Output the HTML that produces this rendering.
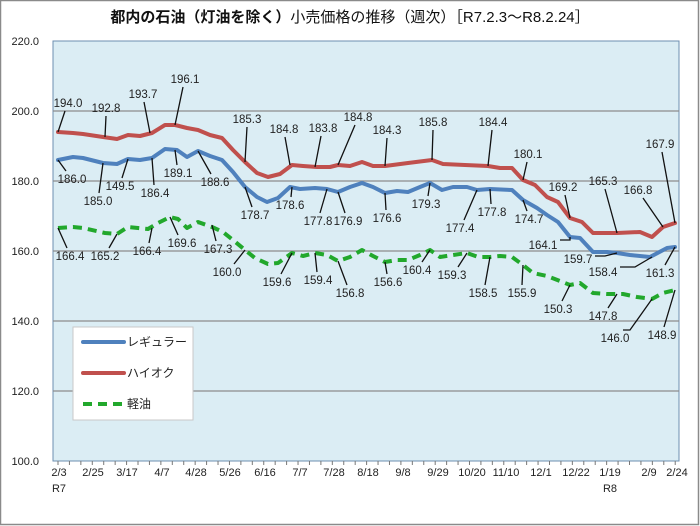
<!DOCTYPE html>
<html><head><meta charset="utf-8"><style>
html,body{margin:0;padding:0;background:#fff}
svg{display:block}
text{font-family:"Liberation Sans","Noto Sans CJK JP",sans-serif}
</style></head><body>
<svg width="700" height="526" viewBox="0 0 700 526" xmlns="http://www.w3.org/2000/svg">
<defs><pattern id="tk" x="57.5" y="0" width="11.43" height="10" patternUnits="userSpaceOnUse"><rect x="0" y="0" width="1" height="10" fill="#777"/></pattern></defs>
<rect x="0.5" y="0.5" width="698" height="524" fill="#fff" stroke="#8a8a8a" stroke-width="1.5"/>
<text x="350" y="22" text-anchor="middle" font-size="15" fill="#111"><tspan font-weight="bold">都内の石油（灯油を除く）</tspan>小売価格の推移（週次）［R7.2.3～R8.2.24］</text>
<rect x="53" y="41" width="626" height="420" fill="#dbedf4" stroke="#6d8fb0" stroke-width="1"/>
<g stroke="#8c8c8c" stroke-width="1.2">
<line x1="53" y1="111" x2="679" y2="111"/><line x1="53" y1="181" x2="679" y2="181"/>
<line x1="53" y1="251" x2="679" y2="251"/><line x1="53" y1="321" x2="679" y2="321"/>
<line x1="53" y1="391" x2="679" y2="391"/>
</g>
<rect x="57" y="461" width="620" height="4" fill="url(#tk)"/>
<g font-size="11" fill="#222" text-anchor="end">
<text x="39" y="45">220.0</text><text x="39" y="115">200.0</text><text x="39" y="185">180.0</text>
<text x="39" y="255">160.0</text><text x="39" y="325">140.0</text><text x="39" y="395">120.0</text><text x="39" y="465">100.0</text>
</g>
<g font-size="11" fill="#222" text-anchor="middle">
<text x="59" y="476">2/3</text><text x="59" y="492">R7</text>
<text x="93" y="476">2/25</text><text x="127" y="476">3/17</text><text x="162" y="476">4/7</text>
<text x="196" y="476">4/28</text><text x="230" y="476">5/26</text><text x="265" y="476">6/16</text>
<text x="300" y="476">7/7</text><text x="334" y="476">7/28</text><text x="368" y="476">8/18</text>
<text x="403" y="476">9/8</text><text x="438" y="476">9/29</text><text x="472" y="476">10/20</text>
<text x="506" y="476">11/10</text><text x="541" y="476">12/1</text><text x="576" y="476">12/22</text>
<text x="610" y="476">1/19</text><text x="610" y="492">R8</text>
<text x="649" y="476">2/9</text><text x="677" y="476">2/24</text>
</g>
<g fill="none" stroke-linejoin="round" stroke-linecap="round">
<polyline stroke="#c0504d" stroke-width="4" points="58,132 73,133 83,134 103,137 117,139 128,135 140,136 152,133 165,125 175,125 187,128 198,130 210,135 222,138 233,150 245,162 257,173 268,177 280,174 292,165 303,166 317,167 330,167 338,165 350,166 362,162 373,166 385,166 408,163 432,160 443,164 465,165 488,166 500,168 512,168 523,180 535,185 547,197 558,202 570,218 582,222 593,233 617,233 640,232 652,237 663,227 675,223"/>
<polyline stroke="#4f81bd" stroke-width="4" points="58,160 73,157 83,158 103,163 117,164 128,159 140,160 152,158 165,149 177,150 187,157 198,151 210,156 222,160 233,172 245,187 257,197 267,202 278,198 290,187 300,189 315,188 327,189 338,192 350,187 362,183 373,187 385,193 397,191 408,192 420,187 430,183 442,190 453,187 467,187 477,190 490,189 512,190 523,200 537,208 547,215 558,222 570,237 580,238 593,252 607,252 617,253 630,255 650,257 667,248 675,247"/>
<polyline stroke="#22a82c" stroke-width="4" stroke-dasharray="9,6" stroke-linecap="butt" points="58,228 73,227 83,228 105,233 117,234 128,227 148,229 158,223 170,217 178,219 187,228 198,222 212,227 223,232 233,240 245,250 255,258 268,264 278,263 292,253 303,256 315,253 327,255 338,261 350,257 362,250 373,256 385,262 397,260 408,260 420,255 430,250 440,257 453,255 467,253 478,257 490,257 500,256 512,257 523,265 533,273 547,276 560,281 570,285 580,283 593,293 607,294 623,294 637,297 652,299 663,293 675,290"/>
</g>
<path fill="none" stroke="#111" stroke-width="1.3" d="M65,111L58,132M106,116L105,137M144,102L150,133M183,87L175,125M247,127L245,162M285,137L290,165M321,136L315,167M355,125L338,165M387,138L385,166M433,130L432,160M492,130L488,166M527,162L523,180M565,195L570,218M605,189L617,233M643,198L663,227M662,152L675,223M66,171L58,160M99,193L103,163M122,178L128,159M154,185L152,158M177,165L175,150M211,174L198,151M252,207L245,187M291,197L292,187M320,213L327,189M345,213L338,192M386,210L385,193M428,196L430,183M464,220L477,190M491,204L490,189M527,211L523,200M560,240L570,240L570,237M595,256L605,256L617,253M620,267L635,267L652,257M665,265L675,247M67,248L58,228M109,248L117,234M149,243L152,228M178,235L170,217M216,241L212,225M234,264L245,250M281,274L292,253M317,272L315,253M347,285L338,261M387,274L385,262M422,262L430,250M458,267L467,253M485,285L490,257M522,285L523,265M562,301L570,285M608,308L617,294M623,330L630,330L652,299M664,327L675,290"/>
<g font-size="11.5" fill="#222" text-anchor="middle">
<text x="68" y="107">194.0</text><text x="106" y="112">192.8</text><text x="143" y="98">193.7</text><text x="185" y="83">196.1</text><text x="247" y="123">185.3</text><text x="284" y="133">184.8</text><text x="323" y="132">183.8</text><text x="358" y="121">184.8</text><text x="387" y="134">184.3</text><text x="433" y="126">185.8</text><text x="493" y="126">184.4</text><text x="528" y="158">180.1</text><text x="563" y="191">169.2</text><text x="603" y="185">165.3</text><text x="638" y="194">166.8</text><text x="660" y="148">167.9</text>
<text x="72" y="183">186.0</text><text x="98" y="205">185.0</text><text x="120" y="190">149.5</text><text x="155" y="197">186.4</text><text x="178" y="177">189.1</text><text x="215" y="186">188.6</text><text x="255" y="219">178.7</text><text x="290" y="209">178.6</text><text x="318" y="225">177.8</text><text x="348" y="225">176.9</text><text x="387" y="222">176.6</text><text x="426" y="208">179.3</text><text x="460" y="232">177.4</text><text x="492" y="216">177.8</text><text x="529" y="223">174.7</text><text x="543" y="249">164.1</text><text x="578" y="263">159.7</text><text x="603" y="276">158.4</text><text x="660" y="277">161.3</text>
<text x="70" y="260">166.4</text><text x="105" y="260">165.2</text><text x="147" y="255">166.4</text><text x="182" y="247">169.6</text><text x="218" y="253">167.3</text><text x="227" y="276">160.0</text><text x="277" y="286">159.6</text><text x="318" y="284">159.4</text><text x="350" y="297">156.8</text><text x="388" y="286">156.6</text><text x="417" y="274">160.4</text><text x="452" y="279">159.3</text><text x="483" y="297">158.5</text><text x="522" y="297">155.9</text><text x="558" y="313">150.3</text><text x="603" y="320">147.8</text><text x="615" y="342">146.0</text><text x="662" y="339">148.9</text>
</g>
<rect x="73" y="327" width="120" height="93" fill="#fff" stroke="#c8c8c8"/>
<line x1="83" y1="342" x2="124" y2="342" stroke="#4f81bd" stroke-width="4" stroke-linecap="round"/>
<line x1="83" y1="373" x2="124" y2="373" stroke="#c0504d" stroke-width="4" stroke-linecap="round"/>
<line x1="83" y1="404" x2="124" y2="404" stroke="#22a82c" stroke-width="4" stroke-dasharray="9,6"/>
<g font-size="12" fill="#222"><text x="127" y="346">レギュラー</text><text x="127" y="377">ハイオク</text><text x="127" y="408">軽油</text></g>
</svg>
</body></html>
